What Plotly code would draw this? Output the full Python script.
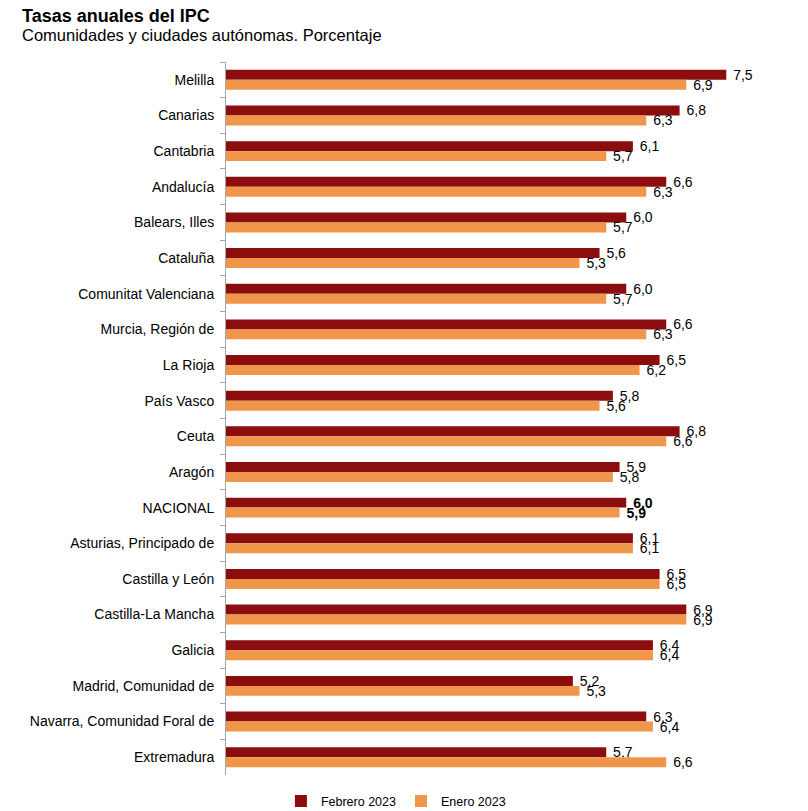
import plotly.graph_objects as go

categories = ["Melilla", "Canarias", "Cantabria", "Andalucía", "Balears, Illes", "Cataluña",
              "Comunitat Valenciana", "Murcia, Región de", "La Rioja", "País Vasco", "Ceuta",
              "Aragón", "NACIONAL", "Asturias, Principado de", "Castilla y León",
              "Castilla-La Mancha", "Galicia", "Madrid, Comunidad de",
              "Navarra, Comunidad Foral de", "Extremadura"]
febrero = [7.5, 6.8, 6.1, 6.6, 6.0, 5.6, 6.0, 6.6, 6.5, 5.8, 6.8, 5.9, 6.0, 6.1, 6.5, 6.9, 6.4, 5.2, 6.3, 5.7]
enero = [6.9, 6.3, 5.7, 6.3, 5.7, 5.3, 5.7, 6.3, 6.2, 5.6, 6.6, 5.8, 5.9, 6.1, 6.5, 6.9, 6.4, 5.3, 6.4, 6.6]
series_names = ["Febrero 2023", "Enero 2023"]
colors = ["#8B0D0D", "#F0964B"]
FONT = "Liberation Sans, Arial, sans-serif"

W, H = 808, 811
ML, MR, MT, MB = 226, 15, 62, 36


def fmt(vals):
    out = []
    for c, v in zip(categories, vals):
        s = f"{v:.1f}".replace(".", ",")
        out.append("\u00a0" + (f"<b>{s}</b>" if c == "NACIONAL" else s))
    return out


fig = go.Figure()
for name, vals, col in zip(series_names, [febrero, enero], colors):
    fig.add_trace(go.Bar(
        y=categories, x=vals, name=name, orientation="h",
        marker=dict(color=col, line=dict(width=0)),
        text=fmt(vals), textposition="outside", constraintext="none",
        cliponaxis=False,
        textfont=dict(family=FONT, size=14, color="#000000"),
        hoverinfo="skip",
    ))

fig.update_layout(
    barmode="group", bargap=0.44, bargroupgap=0,
    width=W, height=H,
    margin=dict(l=ML, r=MR, t=MT, b=MB, autoexpand=False),
    paper_bgcolor="white", plot_bgcolor="white",
    font=dict(family=FONT, size=14, color="#000000"),
    showlegend=True,
    legend=dict(orientation="h", xref="container", yref="container",
                x=0.49, xanchor="center", y=0.012, yanchor="middle",
                font=dict(family=FONT, size=12.5, color="#000000"),
                itemwidth=30, traceorder="normal",
                bgcolor="rgba(0,0,0,0)"),
    xaxis=dict(range=[0, 8.5], visible=False, showgrid=False, zeroline=False),
    yaxis=dict(autorange="reversed", showgrid=False, zeroline=False,
               showline=True, linecolor="#A6A6A6", linewidth=1,
               ticks="outside", ticklen=5, tickcolor="#A6A6A6", tickson="boundaries",
               tickfont=dict(family=FONT, size=14, color="#000000"),
               ticklabelstandoff=8),
)

plot_w = W - ML - MR
plot_h = H - MT - MB


def px_to_paper(x, y):
    return (x - ML) / plot_w, (H - MB - y) / plot_h


tx, ty = px_to_paper(20, 16)
sx, sy = px_to_paper(20, 35)
fig.add_annotation(text="<b>Tasas anuales del IPC</b>", x=tx, y=ty, xref="paper", yref="paper",
                   showarrow=False, xanchor="left", yanchor="middle",
                   font=dict(family=FONT, size=18, color="#000000"))
fig.add_annotation(text="Comunidades y ciudades autónomas. Porcentaje", x=sx, y=sy,
                   xref="paper", yref="paper", showarrow=False, xanchor="left", yanchor="middle",
                   font=dict(family=FONT, size=16.5, color="#000000"))

fig.write_html("out.html")
